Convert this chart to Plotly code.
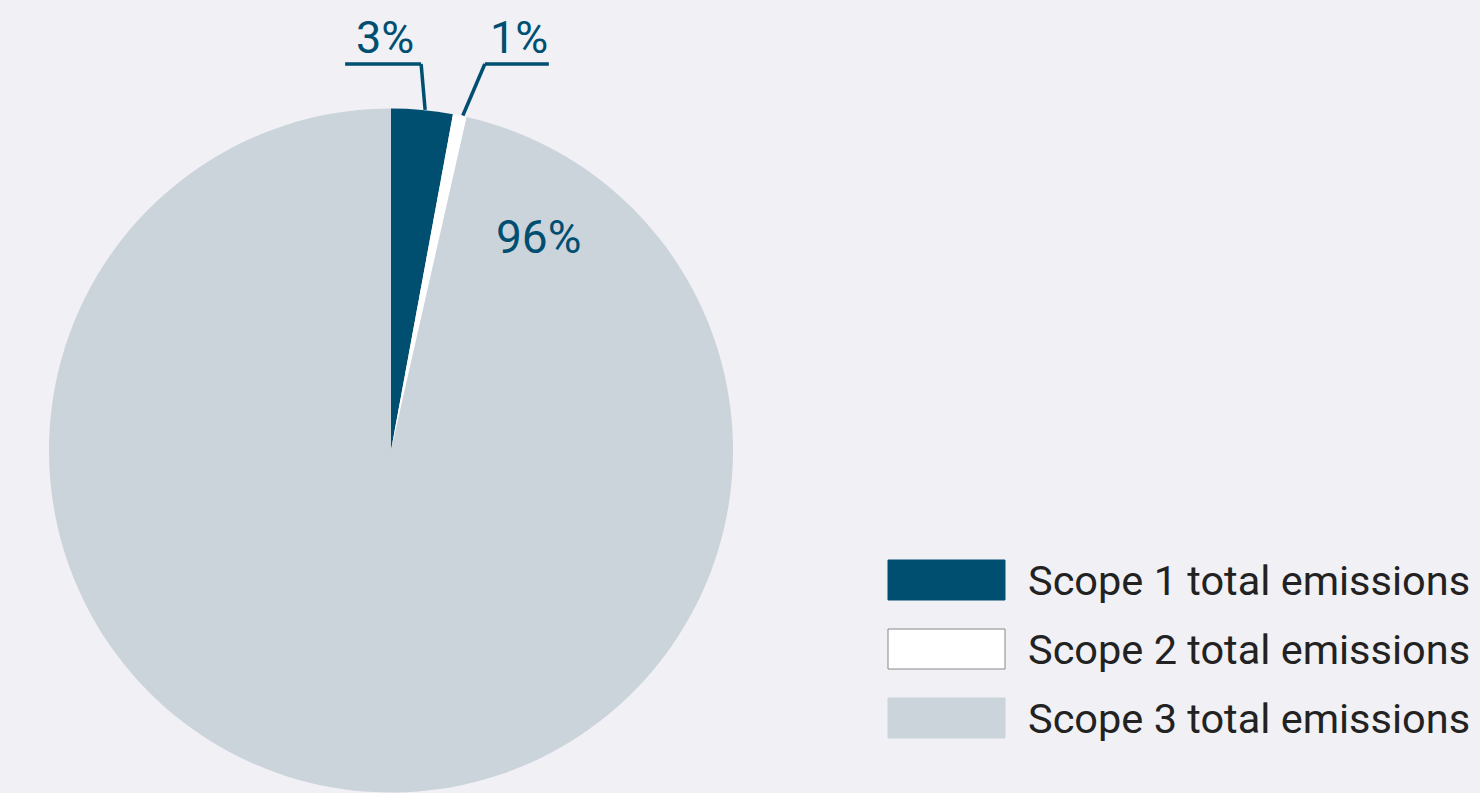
import math
import plotly.graph_objects as go

# ---- data ----
categories = ["Scope 1 total emissions", "Scope 2 total emissions", "Scope 3 total emissions"]
values = [2.9, 0.65, 96.45]
colors = ["#004f71", "#ffffff", "#cbd3db"]

W, H = 1480, 793
BG = "#f0f0f5"
TXT = "#004f71"
FONT = "Roboto"

# pie geometry (pixels)
dom_x = [49 / W, 733 / W]
dom_y = [0, (H - 108) / H]
cx = (dom_x[0] + dom_x[1]) / 2 * W
cy = H - (dom_y[0] + dom_y[1]) / 2 * H
R = min((dom_x[1] - dom_x[0]) * W, (dom_y[1] - dom_y[0]) * H) / 2

def px2paper(x, y):
    return x / W, 1 - y / H

fig = go.Figure(go.Pie(
    labels=categories, values=values, sort=False, direction="clockwise",
    rotation=0, marker=dict(colors=colors, line=dict(width=0)),
    textinfo="none", hoverinfo="label+percent", showlegend=False,
    domain=dict(x=dom_x, y=dom_y),
))

total = sum(values)
pcts = [f"{round(v / total * 100):.0f}%" for v in values]

shapes = []
annotations = []

# outside labels with leader lines for the two small slices
elbow_shift = [-4, 22]     # horizontal nudge of elbow (px)
side = [-1, 1]             # direction of horizontal segment
elbow_y = 64
seg_len = [76, 64]
cum = 0
for i in range(3):
    mid = (cum + values[i] / 2) / total * 2 * math.pi
    cum += values[i]
    if i < 2:
        sx = cx + R * math.sin(mid) + 3
        sy = cy - R * math.cos(mid)
        ex = sx + elbow_shift[i]
        hx = ex + side[i] * seg_len[i]
        for (x0, y0, x1, y1) in [(sx, sy, ex, elbow_y), (ex, elbow_y, hx, elbow_y)]:
            p0 = px2paper(x0, y0); p1 = px2paper(x1, y1)
            shapes.append(dict(type="line", xref="paper", yref="paper",
                               x0=p0[0], y0=p0[1], x1=p1[0], y1=p1[1],
                               line=dict(color=TXT, width=3.5)))
        lx, ly = px2paper((ex + hx) / 2 + 2, elbow_y + 2)
        annotations.append(dict(x=lx, y=ly, xref="paper", yref="paper", text=pcts[i],
                                showarrow=False, xanchor="center", yanchor="bottom",
                                font=dict(family=FONT, size=45, color=TXT)))
    else:
        lx, ly = px2paper(538, 237)
        annotations.append(dict(x=lx, y=ly, xref="paper", yref="paper", text=pcts[i],
                                showarrow=False, xanchor="center", yanchor="middle",
                                font=dict(family=FONT, size=46, color=TXT)))

# custom legend
leg_x0, leg_x1 = 888, 1005
leg_y0 = 580
leg_gap = 69
sw_h = 40
border = ["#004f71", "#888888", "#cbd3db"]
for i, name in enumerate(categories):
    yc = leg_y0 + i * leg_gap
    p0 = px2paper(leg_x0, yc - sw_h / 2)
    p1 = px2paper(leg_x1, yc + sw_h / 2)
    shapes.append(dict(type="rect", xref="paper", yref="paper",
                       x0=p0[0], y0=p0[1], x1=p1[0], y1=p1[1],
                       fillcolor=colors[i], line=dict(color=border[i], width=1)))
    tx, ty = px2paper(1026, yc)
    annotations.append(dict(x=tx, y=ty, xref="paper", yref="paper", text=name,
                            showarrow=False, xanchor="left", yanchor="middle",
                            font=dict(family=FONT, size=41.5, color="#222222")))

fig.update_layout(
    width=W, height=H, margin=dict(l=0, r=0, t=0, b=0),
    paper_bgcolor=BG, plot_bgcolor=BG,
    shapes=shapes, annotations=annotations,
)

fig.write_html(
    "out.html",
    config={"displayModeBar": False},
    post_script="document.body.style.margin='0';document.body.style.background='#f0f0f5';",
)
